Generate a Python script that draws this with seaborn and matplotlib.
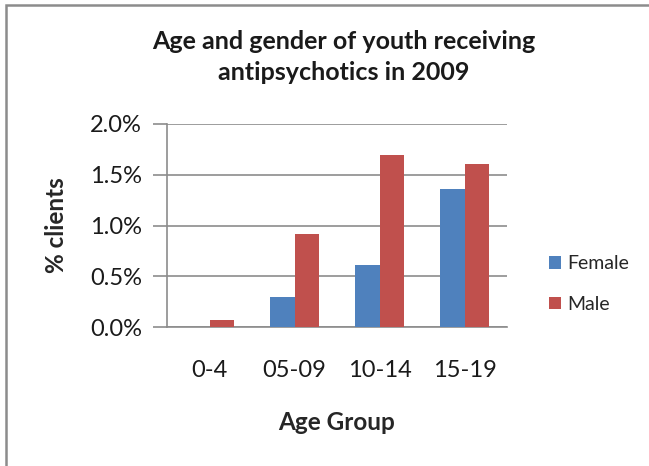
import matplotlib
matplotlib.use("Agg")
import matplotlib.pyplot as plt
from matplotlib.patches import Rectangle
from matplotlib.ticker import PercentFormatter
import pandas as pd
import seaborn as sns

# Share of clients receiving antipsychotics, by age group and gender (percent)
age_groups = ["0-4", "05-09", "10-14", "15-19"]
female = [0.0, 0.30, 0.61, 1.36]
male = [0.07, 0.92, 1.69, 1.61]
series_names = ["Female", "Male"]
y_ticks = [0.0, 0.5, 1.0, 1.5, 2.0]

df = pd.DataFrame({
    "Age Group": age_groups * 2,
    "value": female + male,
    "Gender": [series_names[0]] * len(age_groups) + [series_names[1]] * len(age_groups),
})

sns.set_theme(style="white")
plt.rcParams["font.family"] = ["Lato", "DejaVu Sans"]

W, H = 649, 466
fig = plt.figure(figsize=(W / 100, H / 100), dpi=100)
fig.patch.set_facecolor("white")

# outer chart frame (left and top edges visible)
fig.patches.append(Rectangle((6 / W, -0.1), 1.2, 1 - 5 / H + 0.1,
                             transform=fig.transFigure, fill=False,
                             edgecolor="#8c8c8c", linewidth=1.8, zorder=0))

ax = fig.add_axes([167 / W, 1 - 327 / H, 340 / W, 203 / H])
palette = {"Female": "#4F81BD", "Male": "#C0504D"}
sns.barplot(data=df, x="Age Group", y="value", hue="Gender", palette=palette,
            width=0.57, gap=0, edgecolor="none", saturation=1, ax=ax, zorder=3)

ax.set_ylim(0, 2.0)
ax.set_yticks(y_ticks)
ax.yaxis.set_major_formatter(PercentFormatter(decimals=1))
ax.set_xlim(-0.5, len(age_groups) - 0.5)
ax.yaxis.grid(True, color="#8c8c8c", linewidth=1.2, zorder=0)
ax.set_axisbelow(True)

for side in ["top", "right"]:
    ax.spines[side].set_visible(False)
for side in ["left", "bottom"]:
    ax.spines[side].set_color("#8c8c8c")
    ax.spines[side].set_linewidth(1.2)

ax.tick_params(axis="y", which="major", direction="out", length=10, width=1.2,
               color="#8c8c8c", pad=8, labelsize=17, labelcolor="#1a1a1a", left=True)
ax.tick_params(axis="x", length=0, pad=24, labelsize=17, labelcolor="#1a1a1a")

ax.set_xlabel("Age Group", fontsize=17.5, fontweight="bold", va="center")
ax.xaxis.set_label_coords(0.5, (327 - 423) / 203)
ax.set_ylabel("% clients", fontsize=17.5, fontweight="bold", va="center")
ax.yaxis.set_label_coords((56 - 167) / 340, 0.5)

fig.text(344 / W, 1 - 57 / H, "Age and gender of youth receiving\nantipsychotics in 2009",
         ha="center", va="center", fontsize=18, fontweight="bold",
         linespacing=1.4, color="#1a1a1a")

ax.legend(loc="center left", bbox_to_anchor=(549 / W, 1 - 284 / H),
          bbox_transform=fig.transFigure, frameon=False, fontsize=14,
          borderpad=0, borderaxespad=0,
          handlelength=0.6, handleheight=0.6, handletextpad=0.35,
          labelspacing=1.2, title=None)

fig.savefig("out.png", dpi=100, facecolor="white")
